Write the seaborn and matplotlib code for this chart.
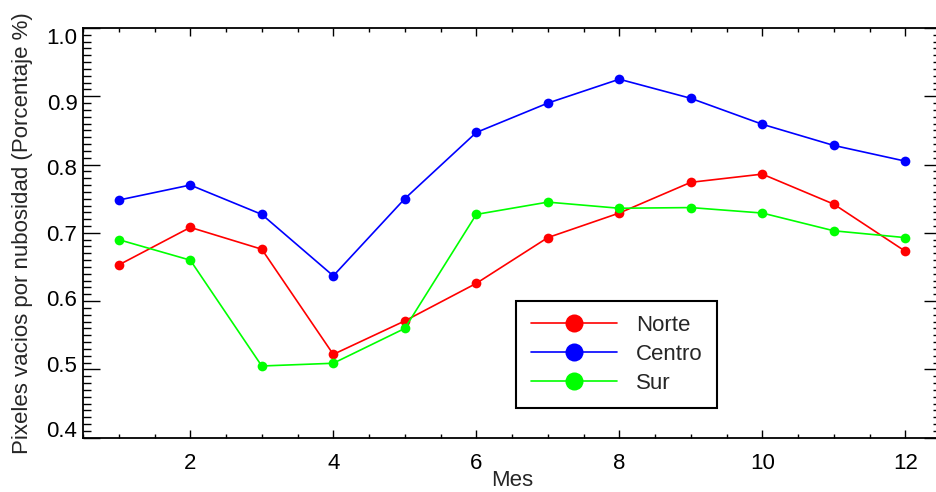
import pandas as pd
import seaborn as sns
import matplotlib.pyplot as plt
import matplotlib.transforms as mtransforms
from matplotlib.lines import Line2D
from matplotlib.ticker import MultipleLocator

# Values
meses = [1, 2, 3, 4, 5, 6, 7, 8, 9, 10, 11, 12]
norte = [0.653, 0.708, 0.676, 0.522, 0.571, 0.626, 0.693, 0.729, 0.774, 0.786, 0.742, 0.673]
centro = [0.748, 0.770, 0.727, 0.637, 0.750, 0.847, 0.890, 0.925, 0.897, 0.859, 0.828, 0.805]
sur = [0.690, 0.660, 0.505, 0.509, 0.560, 0.727, 0.745, 0.736, 0.737, 0.729, 0.703, 0.693]
regiones = ['Norte', 'Centro', 'Sur']
colores = {'Norte': '#ff0000', 'Centro': '#0000ff', 'Sur': '#00ff00'}

# Long format for seaborn
df = pd.DataFrame({
    'Mes': meses * 3,
    'Valor': norte + centro + sur,
    'Region': ['Norte'] * 12 + ['Centro'] * 12 + ['Sur'] * 12,
})

sns.set_style('ticks')
plt.rcParams['font.family'] = ['Liberation Sans', 'DejaVu Sans']
fs = 16

fig = plt.figure(figsize=(9.36, 4.92), dpi=100)
ax = fig.add_axes([0.0887, 0.1104, 0.9167, 0.8327])

sns.lineplot(data=df, x='Mes', y='Valor', hue='Region', hue_order=regiones,
             palette=colores, marker='o', markersize=7, markeredgewidth=0,
             linewidth=1.2, legend=False, ax=ax)

ax.set_xlim(0.5, 12.5)
ax.set_ylim(0.4, 1.0)
ax.xaxis.set_major_locator(MultipleLocator(2))
ax.xaxis.set_minor_locator(MultipleLocator(0.5))
ax.yaxis.set_major_locator(MultipleLocator(0.1))
ax.yaxis.set_minor_locator(MultipleLocator(0.01))
ax.yaxis.set_major_formatter(plt.FormatStrFormatter('%.1f'))

ax.tick_params(axis='both', which='both', direction='in', top=True, right=True,
               width=1.0, colors='black', labelsize=fs)
ax.tick_params(axis='x', which='major', length=5.8, pad=11)
ax.tick_params(axis='x', which='minor', length=2.9)
ax.tick_params(axis='y', which='major', length=12, pad=4)
ax.tick_params(axis='y', which='minor', length=6)
for s in ax.spines.values():
    s.set_linewidth(1.3)
    s.set_color('black')

# y labels in the original sit slightly squeezed toward the middle
for v, tick in zip(ax.get_yticks(), ax.yaxis.get_major_ticks()):
    dy = (0.7 - v) * 20 / 72
    off = mtransforms.ScaledTranslation(0, dy, fig.dpi_scale_trans)
    tick.label1.set_transform(tick.label1.get_transform() + off)

ax.set_xlabel('Mes', fontsize=fs, va='baseline')
ax.xaxis.set_label_coords(0.5, (437.7 - 486) / 409.7)
ax.set_ylabel('Pixeles vacios por nubosidad (Porcentaje %)', fontsize=fs, labelpad=10)

# Legend with large markers
handles = [Line2D([0], [0], color=colores[r], marker='o', markersize=13,
                  markeredgewidth=0, linewidth=1.2) for r in regiones]
leg = ax.legend(handles, regiones, loc='lower left', bbox_to_anchor=(0.5047, 0.0725),
                borderaxespad=0, fontsize=fs, handlelength=3.9, handletextpad=0.85,
                labelspacing=0.35, borderpad=0.65, fancybox=False, framealpha=1,
                edgecolor='black')
leg.get_frame().set_linewidth(1.5)

fig.savefig('out.png', dpi=100)
